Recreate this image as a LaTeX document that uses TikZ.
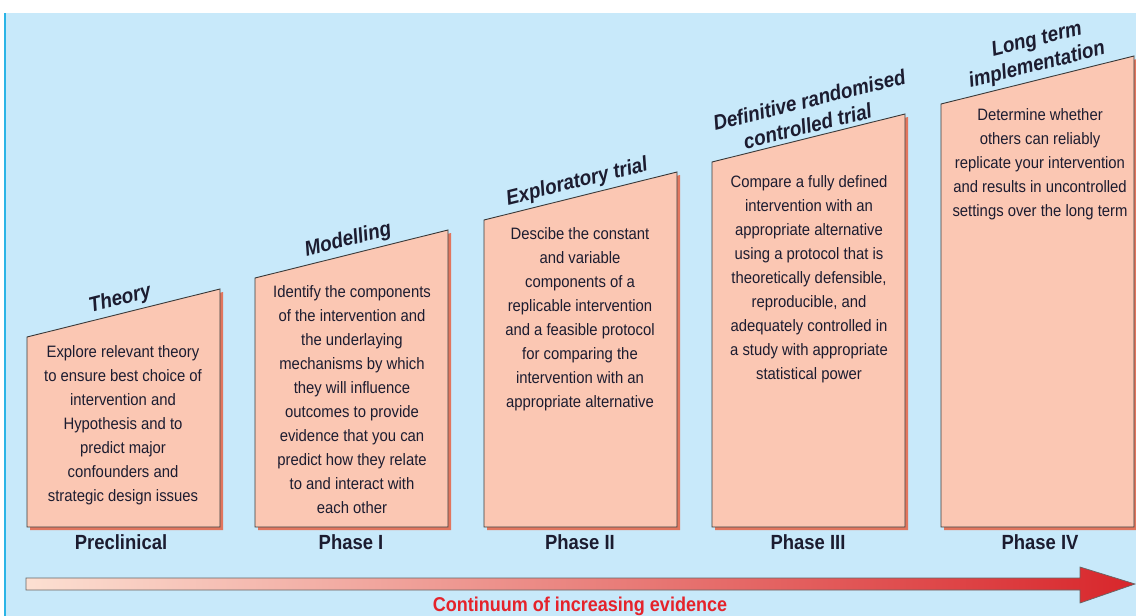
\documentclass[tikz,border=0pt]{standalone}
\usepackage{fontspec}
\setmainfont{Liberation Sans}[FakeStretch=0.9]
\definecolor{bgblue}{HTML}{C8E9FA}
\definecolor{edgecyan}{HTML}{2AB4E6}
\definecolor{boxfill}{HTML}{FBC7B3}
\definecolor{boxshadow}{HTML}{E2765E}
\definecolor{boxline}{HTML}{3A3A3A}
\definecolor{inkc}{HTML}{1C1C30}
\definecolor{arrowstart}{HTML}{FCE0D2}
\definecolor{arrowend}{HTML}{D8262B}
\definecolor{captionred}{HTML}{E5232B}
\tikzset{
  bodytext/.style={anchor=north, inner sep=0pt, align=center, text=inkc,
    font=\fontsize{16.5}{24}\selectfont},
  titletext/.style={inner sep=0pt, align=center, text=inkc,
    font=\fontsize{21}{25}\selectfont\bfseries\itshape},
  phasetext/.style={inner sep=0pt, text=inkc,
    font=\fontsize{20.5}{22}\selectfont\bfseries},
  captiontext/.style={inner sep=0pt, text=captionred,
    font=\fontsize{20}{22}\selectfont\bfseries},
}
\begin{document}
\begin{tikzpicture}[x=1pt,y=-1pt]
\useasboundingbox (0,0) rectangle (1136,616);
\fill[white] (0,0) rectangle (1136,616);
\fill[bgblue] (5,13) rectangle (1136,616);
\fill[edgecyan] (4,13) rectangle (6,616);

% boxes
\foreach \i/\xl/\yt in {1/27/337, 2/255/278, 3/484/220, 4/712/162, 5/941/104} {
  \coordinate (tl\i) at (\xl,\yt);
  \coordinate (tr\i) at (\xl+193,\yt-48);
  \coordinate (br\i) at (\xl+193,527);
  \coordinate (bl\i) at (\xl,527);
  \fill[boxshadow] (\xl+3,\yt+3) -- (\xl+196,\yt-45) -- (\xl+196,530) -- (\xl+3,530) -- cycle;
  \filldraw[fill=boxfill, draw=boxline, line width=0.9pt] (tl\i) -- (tr\i) -- (br\i) -- (bl\i) -- cycle;
}

% titles
\path (tl1) -- (tr1) node[midway, sloped, above=4pt, titletext] (t1) {Theory};
\path (tl2) -- (tr2) node[midway, sloped, above=4pt, titletext] (t2) {Modelling};
\path (tl3) -- (tr3) node[midway, sloped, above=4pt, titletext] (t3) {Exploratory trial};
\path (tl4) -- (tr4) node[midway, sloped, above=4pt, xshift=2pt, titletext] (t4) {\hspace*{16pt}Definitive randomised\\controlled trial};
\path (tl5) -- (tr5) node[midway, sloped, above=4pt, xshift=3pt, titletext] (t5) {\hspace*{12pt}Long term\\implementation};

% body texts
\node[bodytext] (b1) at (123,345) {Explore relevant theory\\to ensure best choice of\\intervention and\\Hypothesis and to\\predict major\\confounders and\\strategic design issues};
\node[bodytext] (b2) at (352,285) {Identify the components\\of the intervention and\\the underlaying\\mechanisms by which\\they will influence\\outcomes to provide\\evidence that you can\\predict how they relate\\to and interact with\\each other};
\node[bodytext] (b3) at (580,227) {Descibe the constant\\and variable\\components of a\\replicable intervention\\and a feasible protocol\\for comparing the\\intervention with an\\appropriate alternative};
\node[bodytext] (b4) at (809,175) {Compare a fully defined\\intervention with an\\appropriate alternative\\using a protocol that is\\theoretically defensible,\\reproducible, and\\adequately controlled in\\a study with appropriate\\statistical power};
\node[bodytext] (b5) at (1040,108) {Determine whether\\others can reliably\\replicate your intervention\\and results in uncontrolled\\settings over the long term};

% phase labels
\node[phasetext] (p1) at (121,542) {Preclinical};
\node[phasetext] (p2) at (351,542) {Phase I};
\node[phasetext] (p3) at (580,542) {Phase II};
\node[phasetext] (p4) at (808,542) {Phase III};
\node[phasetext] (p5) at (1040,542) {Phase IV};

% arrow
\shade[left color=arrowstart, right color=arrowend]
  (26,578) -- (1080,578) -- (1080,567) -- (1135,584) -- (1080,603) -- (1080,590) -- (26,590) -- cycle;
\draw[black!60, line width=0.7pt, line join=miter]
  (26,578) -- (1080,578) -- (1080,567) -- (1135,584) -- (1080,603) -- (1080,590) -- (26,590) -- cycle;

\node[captiontext] (cap) at (580,606) {Continuum of increasing evidence};
\end{tikzpicture}
\end{document}
